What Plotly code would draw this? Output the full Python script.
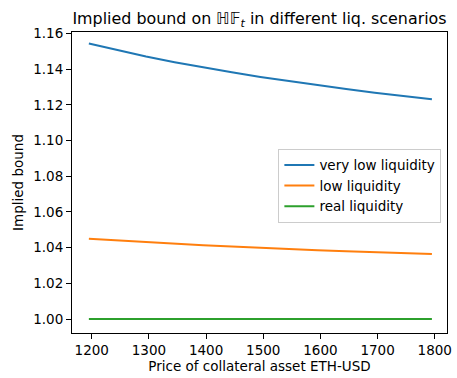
import plotly.graph_objects as go

# Data
price = [1195, 1245, 1295, 1345, 1395, 1445, 1495, 1545, 1595, 1645, 1695, 1745, 1795]
very_low = [1.1544, 1.1507, 1.1472, 1.1440, 1.1410, 1.1383, 1.1357, 1.1333, 1.1310,
            1.1289, 1.1269, 1.1250, 1.1232]
low = [1.0450, 1.0440, 1.0430, 1.0421, 1.0413, 1.0406, 1.0398, 1.0392, 1.0386,
       1.0380, 1.0374, 1.0369, 1.0364]
real = [1.0000] * 13
series_names = ["very low liquidity", "low liquidity", "real liquidity"]
colors = ["#1f77b4", "#ff7f0e", "#2ca02c"]
x_ticks = [1200, 1300, 1400, 1500, 1600, 1700, 1800]
y_ticks = [1.00, 1.02, 1.04, 1.06, 1.08, 1.10, 1.12, 1.14, 1.16]

FONT = "DejaVu Sans"

fig = go.Figure()
for name, ys, c in zip(series_names, [very_low, low, real], colors):
    fig.add_trace(go.Scatter(x=price, y=ys, mode="lines", name=name,
                             line=dict(color=c, width=2)))

axis_common = dict(showline=True, mirror=True, linecolor="black", linewidth=1,
                   ticks="outside", ticklen=5, tickwidth=1, tickcolor="black",
                   showgrid=False, zeroline=False,
                   tickfont=dict(family=FONT, size=13.5, color="black"))

fig.update_layout(
    width=457, height=378,
    margin=dict(l=72, r=5, t=32, b=45),
    paper_bgcolor="white", plot_bgcolor="white",
    font=dict(family=FONT, size=13, color="black"),
    title=dict(text="Implied bound on ℍ𝔽<sub><i>t</i></sub> in different liq. scenarios",
               x=0.5, xref="paper", xanchor="center",
               y=1 - 18 / 378, yref="container", yanchor="middle",
               font=dict(family=FONT, size=15.9, color="black")),
    xaxis=dict(range=[1165.5, 1821.4], tickvals=x_ticks,
               title=dict(text="Price of collateral asset ETH-USD", standoff=4,
                          font=dict(family=FONT, size=13.5)),
               **axis_common),
    yaxis=dict(range=[0.99216, 1.1609], tickvals=y_ticks, tickformat=".2f",
               title=dict(text="Implied bound", standoff=6,
                          font=dict(family=FONT, size=13.5)),
               **axis_common),
    legend=dict(x=0.985, xanchor="right", y=0.612, yanchor="top",
                bgcolor="rgba(255,255,255,0.8)", bordercolor="#cccccc", borderwidth=1,
                font=dict(family=FONT, size=13.5, color="black"),
                itemwidth=30, tracegroupgap=0),
    showlegend=True,
)

fig.write_html("out.html",
               config={"displayModeBar": False},
               post_script="document.body.style.margin='0';document.body.style.overflow='hidden';")
